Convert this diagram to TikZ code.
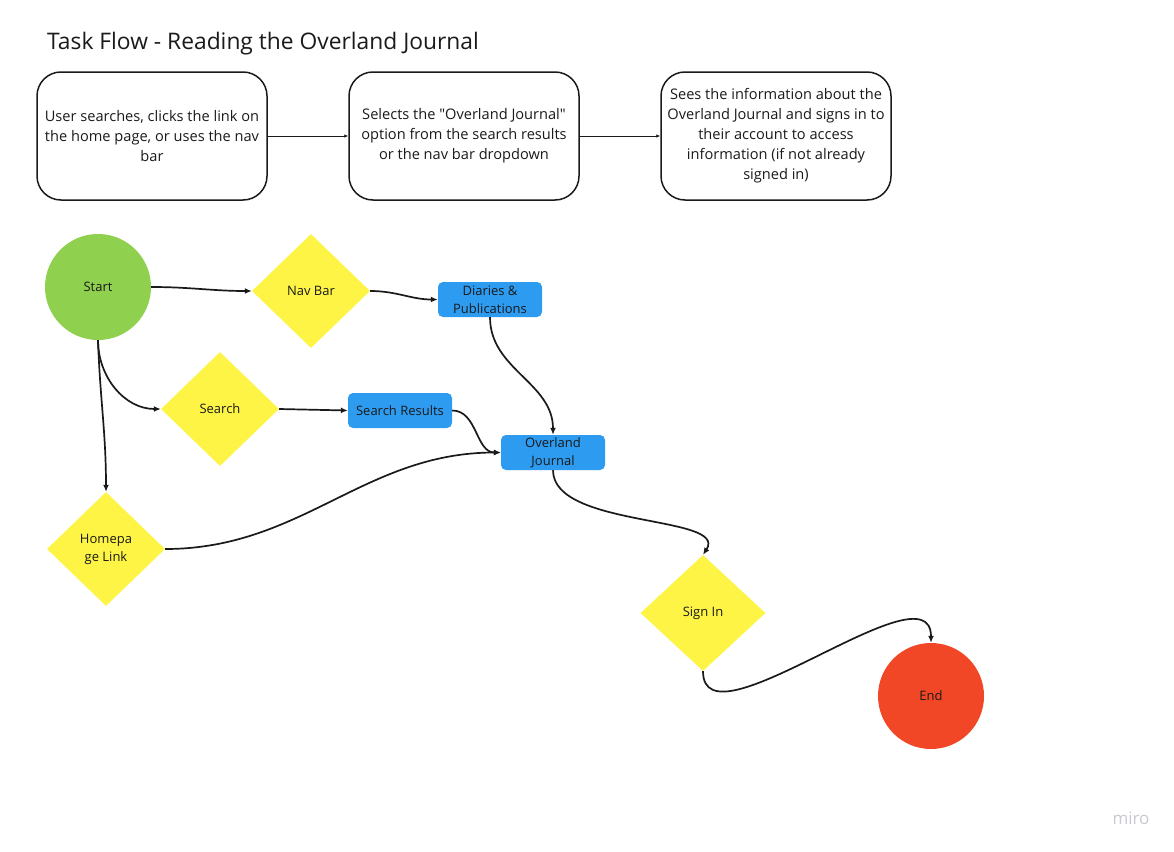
\documentclass[tikz,border=0pt]{standalone}
\usepackage{fontspec}
\setmainfont{Open Sans}[Ligatures=TeXOff]
\usepackage{xcolor}
\usetikzlibrary{shapes.geometric,arrows.meta}
\definecolor{ink}{HTML}{1A1A1A}
\definecolor{startgreen}{HTML}{8FD14F}
\definecolor{diayellow}{HTML}{FEF445}
\definecolor{pageblue}{HTML}{2D9BF0}
\definecolor{endred}{HTML}{F24726}
\definecolor{mirogray}{HTML}{C9C9D3}

\begin{document}
\begin{tikzpicture}[
        x=1pt, y=-1pt,
        font=\fontsize{13}{18}\selectfont,
        text=ink,
        stepbox/.style={
            rectangle,
            draw=ink,
            line width=1.5pt,
            rounded corners=24pt,
            align=center,
            minimum width=230pt,
            minimum height=128pt,
            inner sep=4pt,
            font=\fontsize{14.6}{20}\selectfont
        },
        decision/.style={
            diamond,
            fill=diayellow,
            align=center,
            minimum width=118pt,
            minimum height=114pt,
            inner sep=0pt
        },
        pagebox/.style={
            rectangle,
            fill=pageblue,
            rounded corners=5pt,
            align=center,
            minimum width=104pt,
            minimum height=35pt,
            inner sep=2pt
        },
        terminal/.style={
            circle,
            minimum size=106pt,
            inner sep=0pt
        },
        flow/.style={
            draw=ink,
            line width=1.7pt,
            -{Latex[length=7pt,width=6pt]}
        },
        link/.style={
            draw=ink,
            line width=0.8pt,
            -{Latex[length=4pt,width=3.5pt]}
        }
    ]

    \fill[white] (0,0) rectangle (1174,851);
    \useasboundingbox (0,0) rectangle (1174,851);

    % Title
    \node[font=\fontsize{22.8}{27}\selectfont, anchor=base west, inner sep=0pt] (title) at (47,50)
        {Task Flow - Reading the Overland Journal};

    % ---------- Top row: task steps ----------
    \node[stepbox] (find)     at (152,136) {User searches, clicks the link on\\the home page, or uses the nav\\bar};
    \node[stepbox] (select)   at (464,136) {Selects the "Overland Journal"\\option from the search results\\or the nav bar dropdown};
    \node[stepbox] (signinfo) at (776,136) {Sees the information about the\\Overland Journal and signs in to\\their account to access\\information (if not already\\signed in)};

    \draw[link] (find) -- (select);
    \draw[link] (select) -- (signinfo);

    % ---------- Flow chart ----------
    \node[terminal, fill=startgreen] (start) at (98,287) {Start};
    \node[decision] (navbar)   at (311,291) {Nav Bar};
    \node[pagebox]  (diaries)  at (490,299.5) {Diaries \&\\Publications};
    \node[decision] (search)   at (220,409) {Search};
    \node[pagebox]  (results)  at (400,410.5) {Search Results};
    \node[pagebox]  (journal)  at (553,452.5) {Overland\\Journal};
    \node[decision] (homelink) at (106,549) {Homepa\\ge Link};
    \node[decision, minimum width=125pt, minimum height=116pt] (signin) at (703,613) {Sign In};
    \node[terminal, fill=endred] (finish) at (931,696) {End};

    \draw[flow] (start.east) to[out=0,in=180] (navbar.west);
    \draw[flow] (navbar.east) to[out=0,in=180] (diaries.west);
    \draw[flow] (diaries.south) to[out=-90,in=90] (journal.north);
    \draw[flow] (start.south) to[out=-90,in=180] (search.west);
    \draw[flow] (start.south) to[out=-88,in=90] (homelink.north);
    \draw[flow] (search.east) -- (results.west);
    \draw[flow] (results.east) to[out=0,in=180] (journal.west);
    \draw[flow] (homelink.east) to[out=0,in=180] (journal.west);
    \draw[flow] (journal.south) .. controls +(0,58) and +(26,-40) .. (signin.north);
    \draw[flow] (signin.south) to[out=-90,in=90,looseness=0.9] (finish.north);

    % watermark
    \node[text=mirogray, font=\fontsize{17}{20}\selectfont] (watermark) at (1131,818) {miro};

\end{tikzpicture}
\end{document}
